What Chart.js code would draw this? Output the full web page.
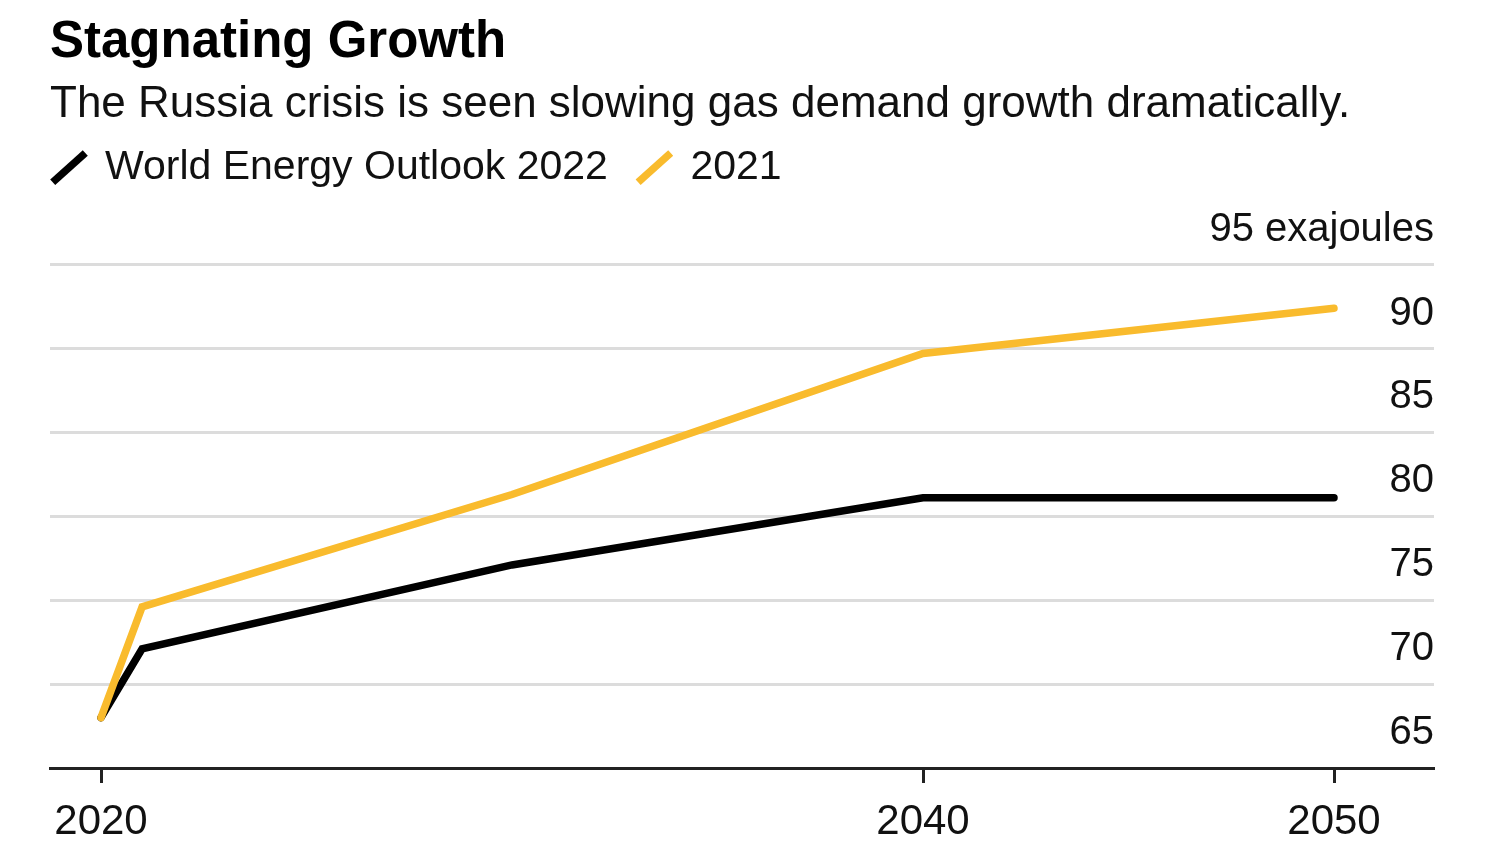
<!DOCTYPE html>
<html>
<head>
<meta charset="utf-8">
<script src="https://cdn.jsdelivr.net/npm/chart.js@4.4.0/dist/chart.umd.min.js"></script>
<style>
  html, body { margin: 0; padding: 0; background: #ffffff; }
  #wrap { width: 1500px; height: 850px; position: relative; }
</style>
</head>
<body>
<div id="wrap"><canvas id="c"></canvas></div>
<script>
// ---- data ----
const years = [2020, 2021, 2030, 2040, 2050];
const outlook2022 = [68.0, 72.1, 77.1, 81.1, 81.1];
const outlook2021 = [68.0, 74.6, 81.3, 89.7, 92.4];
const seriesNames = ['World Energy Outlook 2022', '2021'];
const xTickYears = [2020, 2040, 2050];
const yTickValues = [65, 70, 75, 80, 85, 90, 95];
const yUnit = 'exajoules';
const titleText = 'Stagnating Growth';
const subtitleText = 'The Russia crisis is seen slowing gas demand growth dramatically.';

// ---- styling ----
const FONT = "'Liberation Sans', Arial, Helvetica, sans-serif";
const BLACK = '#000000';
const YELLOW = '#f9bb2d';
const GRID = '#dcdcdc';
const TEXT = '#111111';

Chart.defaults.font.family = FONT;
Chart.defaults.color = TEXT;

const toPoints = (vals) => years.map((yr, i) => ({ x: yr, y: vals[i] }));

const legendTweak = {
  id: 'legendTweak',
  beforeInit(chart) {
    const lg = chart.legend;
    const orig = lg.fit;
    lg.fit = function () {
      orig.call(this);
      this.height = 133;
    };
  },
  afterLayout(chart) {
    const lg = chart.legend;
    lg.left -= 27.5; lg.right -= 27.5;
    lg.top -= 15.5; lg.bottom -= 15.5;
  }
};

new Chart(document.getElementById('c'), {
  type: 'line',
  data: {
    datasets: [
      {
        label: seriesNames[0],
        data: toPoints(outlook2022),
        borderColor: BLACK,
        backgroundColor: BLACK,
        borderWidth: 7.5,
        pointRadius: 0,
        tension: 0,
        borderCapStyle: 'round',
        borderJoinStyle: 'miter',
        order: 1
      },
      {
        label: seriesNames[1],
        data: toPoints(outlook2021),
        borderColor: YELLOW,
        backgroundColor: YELLOW,
        borderWidth: 7.5,
        pointRadius: 0,
        tension: 0,
        borderCapStyle: 'round',
        borderJoinStyle: 'miter',
        order: 0
      }
    ]
  },
  options: {
    responsive: true,
    maintainAspectRatio: false,
    animation: false,
    devicePixelRatio: 1,
    layout: { padding: { left: 50, right: 66, top: 0, bottom: 0 } },
    plugins: {
      tooltip: { enabled: false },
      title: {
        display: true,
        text: titleText,
        align: 'start',
        color: '#000',
        font: { size: 51, weight: 'bold', lineHeight: 1.2 },
        padding: { top: 12.3, bottom: 0 }
      },
      subtitle: {
        display: true,
        text: subtitleText,
        align: 'start',
        color: TEXT,
        font: { size: 44, weight: 'normal', lineHeight: 1.2 },
        padding: { top: 5.3, bottom: 0 }
      },
      legend: {
        display: true,
        position: 'top',
        align: 'start',
        labels: {
          usePointStyle: true,
          boxWidth: 31,
          boxHeight: 31,
          padding: 31,
          color: TEXT,
          font: { size: 41 },
          generateLabels: (chart) => chart.data.datasets.map((ds, i) => ({
            text: ds.label,
            fillStyle: ds.borderColor,
            strokeStyle: ds.borderColor,
            fontColor: TEXT,
            lineWidth: 7.5,
            lineCap: 'butt',
            pointStyle: 'line',
            rotation: -42,
            hidden: false,
            datasetIndex: i
          }))
        }
      }
    },
    scales: {
      x: {
        type: 'linear',
        bounds: 'data',
        min: 2018.759,
        max: 2052.433,
        afterBuildTicks: (axis) => { axis.ticks = xTickYears.map(v => ({ value: v })); },
        afterFit: (axis) => { axis.height = 82; },
        grid: {
          display: true,
          drawOnChartArea: false,
          drawTicks: true,
          tickLength: 15,
          tickColor: '#222',
          tickWidth: 3
        },
        border: { display: true, color: '#222', width: 3 },
        ticks: {
          padding: 13.8,
          color: TEXT,
          font: { size: 42, lineHeight: 1.2 },
          maxRotation: 0,
          autoSkip: false,
          callback: (v) => String(v)
        }
      },
      y: {
        type: 'linear',
        position: 'right',
        min: 65,
        max: 95,
        afterBuildTicks: (axis) => { axis.ticks = yTickValues.map(v => ({ value: v })); },
        grid: {
          drawTicks: false,
          lineWidth: 3,
          color: (ctx) => (ctx.tick && ctx.tick.value === 65) ? 'rgba(0,0,0,0)' : GRID
        },
        border: { display: false },
        ticks: {
          mirror: true,
          padding: 0,
          crossAlign: 'near',
          labelOffset: -35,
          color: TEXT,
          font: { size: 40, lineHeight: 1.2 },
          callback: (v) => v === 95 ? v + ' ' + yUnit : String(v)
        }
      }
    }
  },
  plugins: [legendTweak]
});
</script>
</body>
</html>
